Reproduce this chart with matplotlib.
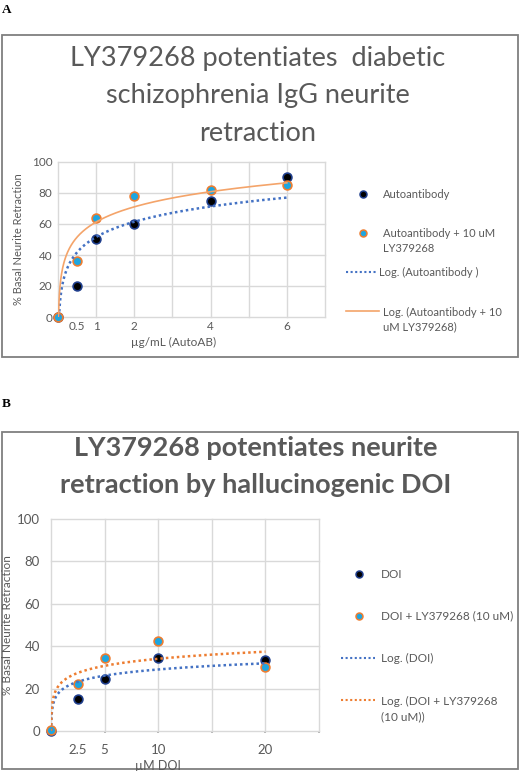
import numpy as np
import matplotlib
matplotlib.use("Agg")
import matplotlib.pyplot as plt
from matplotlib.patches import Rectangle
from matplotlib.lines import Line2D
from matplotlib.transforms import Bbox, TransformedBbox

plt.rcParams['font.family'] = ['Lato', 'DejaVu Sans']

# ---------------- data ----------------
conc_A = [0, 0.5, 1, 2, 4, 6]
autoab = [0, 20, 50, 60, 75, 90]
autoab_ly = [0, 36, 64, 78, 82, 85]
xticks_A = [0.5, 1, 2, 4, 6]
xticklabels_A = ["0.5", "1", "2", "4", "6"]
fit_A_auto = [14.2, 51.6]   # y = a*ln(x) + b
fit_A_ly = [14.1, 61.3]

conc_B = [0, 2.5, 5, 10, 20]
doi = [0, 15.3, 24.3, 34.2, 33.3]
doi_ly = [0.3, 22.4, 34.2, 42.3, 30.3]
xticks_B = [2.5, 5, 10, 20]
xticklabels_B = ["2.5", "5", "10", "20"]
fit_B_doi = [4.18, 19.4]
fit_B_ly = [4.81, 23.0]

yticks = [0, 20, 40, 60, 80, 100]

title_A = ["LY379268 potentiates  diabetic", "schizophrenia IgG neurite", "retraction"]
title_B = ["LY379268 potentiates neurite", "retraction by hallucinogenic DOI"]

# ---------------- figure ----------------
W, H = 520, 771
fig = plt.figure(figsize=(W / 100, H / 100), dpi=100)

def fx(px):
    return px / W

def fy(py):
    return 1 - py / H

def add_axes_px(l, t, r, b):
    return fig.add_axes([fx(l), fy(b), fx(r) - fx(l), (b - t) / H])

GRAY = '#595959'
GRID = '#D9D9D9'
BLUE = '#4472C4'
ORANGE = '#ED7D31'
LORANGE = '#F4A46A'
CYAN = '#1EA6E0'

# panel boxes
fig.patches.append(Rectangle((fx(1.5), fy(357)), fx(516.5), 322 / H, transform=fig.transFigure,
                             fill=False, edgecolor='#7F7F7F', linewidth=1.3))
fig.patches.append(Rectangle((fx(1.5), fy(769)), fx(516), 337 / H, transform=fig.transFigure,
                             fill=False, edgecolor='#7F7F7F', linewidth=1.3))

fig.text(fx(2), fy(13), "A", family='Liberation Serif', weight='bold', fontsize=9.5,
         ha='left', va='baseline')
fig.text(fx(2), fy(407), "B", family='Liberation Serif', weight='bold', fontsize=9.5,
         ha='left', va='baseline')

# titles
for line, base in zip(title_A, [66, 103, 141]):
    fig.text(fx(258), fy(base), line, ha='center', va='baseline', fontsize=19.5, color=GRAY)
for line, base in zip(title_B, [456, 493]):
    fig.text(fx(256), fy(base), line, ha='center', va='baseline', fontsize=19.5,
             weight='bold', color=GRAY)


def style_axes(ax, xmax, grid_step, xt, xtl, tick_fs):
    ax.set_xlim(0, xmax)
    ax.set_ylim(0, 100)
    grid_pos = list(np.arange(0, xmax + 0.01, grid_step))
    major_labels = []
    minor_pos, minor_labels = [], []
    lab = dict(zip(xt, xtl))
    for g in grid_pos:
        major_labels.append(lab.get(g, ""))
    for p, l in zip(xt, xtl):
        if not any(abs(p - g) < 1e-9 for g in grid_pos):
            minor_pos.append(p)
            minor_labels.append(l)
    ax.set_xticks(grid_pos)
    ax.set_xticklabels(major_labels)
    ax.set_xticks(minor_pos, minor=True)
    ax.set_xticklabels(minor_labels, minor=True)
    ax.set_yticks(yticks)
    ax.grid(True, which='major', color=GRID, linewidth=1)
    for gl in ax.get_xgridlines() + ax.get_ygridlines():
        gl.set_clip_on(False)
    ax.tick_params(which='both', length=0, labelsize=tick_fs, labelcolor=GRAY, pad=4)
    for s in ax.spines.values():
        s.set_visible(False)
    ax.set_axisbelow(True)


def logfit(ax, coef, xmax, **kw):
    a, b = coef
    x0 = np.exp(-b / a)
    xs = np.geomspace(x0, xmax, 300)
    ax.plot(xs, a * np.log(xs) + b, **kw)

# ---------------- panel A ----------------
axA = add_axes_px(58, 162, 325, 317)
style_axes(axA, 7, 1, xticks_A, xticklabels_A, 8.5)
axA.tick_params(axis='x', which='both', pad=3)
axA.scatter(conc_A, autoab, s=40, facecolor='black', edgecolor='#1F3E8C', linewidth=1.2, zorder=3, clip_on=False)
axA.scatter(conc_A, autoab_ly, s=40, facecolor=CYAN, edgecolor=ORANGE, linewidth=1.2, zorder=3, clip_on=False)
logfit(axA, fit_A_auto, 6, color=BLUE, lw=1.8, ls=(0, (1, 1.2)), zorder=4)
logfit(axA, fit_A_ly, 6, color=LORANGE, lw=1.2, zorder=4)

fig.text(fx(19), fy(239), "% Basal Neurite Retraction", rotation=90, ha='center', va='center',
         fontsize=8, color=GRAY)
fig.text(fx(174), fy(342), "µg/mL (AutoAB)", ha='center', va='center', fontsize=8.5, color=GRAY)

# legend A
def leg_marker(x, y, fc, ec):
    fig.add_artist(Line2D([fx(x)], [fy(y)], marker='o', markersize=5, markerfacecolor=fc,
                          markeredgecolor=ec, markeredgewidth=1.1, linestyle='none'))

def leg_line(x0, x1, y, **kw):
    fig.add_artist(Line2D([fx(x0), fx(x1)], [fy(y), fy(y)], **kw))

leg_marker(363, 194, 'black', '#1F3E8C')
fig.text(fx(383), fy(194), "Autoantibody", ha='left', va='center', fontsize=8, color=GRAY)
leg_marker(363, 233, CYAN, ORANGE)
fig.text(fx(383), fy(241), "Autoantibody + 10 uM\nLY379268", ha='left', va='center', fontsize=8,
         color=GRAY, linespacing=1.35)
leg_line(346, 377, 272, color=BLUE, lw=1.5, ls=(0, (1, 1.2)))
fig.text(fx(379), fy(272), "Log. (Autoantibody )", ha='left', va='center', fontsize=8, color=GRAY)
leg_line(346, 379, 311, color=LORANGE, lw=1.2)
fig.text(fx(383), fy(320), "Log. (Autoantibody + 10\nuM LY379268)", ha='left', va='center',
         fontsize=8, color=GRAY, linespacing=1.35)

# ---------------- panel B ----------------
axB = add_axes_px(51, 519, 319, 731)
style_axes(axB, 25, 5, xticks_B, xticklabels_B, 9.5)
axB.tick_params(axis='x', which='major', length=1.5, width=1.2, color='#A6A6A6', direction='out')
axB.tick_params(axis='x', which='major', pad=8)
axB.tick_params(axis='x', which='minor', pad=9.5)
axB.tick_params(axis='y', pad=8)
axB.scatter(conc_B, doi, s=40, facecolor='black', edgecolor='#1F3E8C', linewidth=1.2, zorder=3, clip_on=False)
axB.scatter(conc_B, doi_ly, s=40, facecolor=CYAN, edgecolor=ORANGE, linewidth=1.2, zorder=3, clip_on=False)
logfit(axB, fit_B_doi, 20, color=BLUE, lw=1.8, ls=(0, (1, 1.2)), zorder=4)
logfit(axB, fit_B_ly, 20, color=ORANGE, lw=1.8, ls=(0, (1, 1.2)), zorder=4)

fig.text(fx(8), fy(625), "% Basal Neurite Retraction", rotation=90, ha='center', va='center',
         fontsize=8.5, color=GRAY)
fig.text(fx(158), fy(765.5), "µM DOI", ha='center', va='center', fontsize=9, color=GRAY)

leg_marker(359, 574, 'black', '#1F3E8C')
fig.text(fx(381), fy(574), "DOI", ha='left', va='center', fontsize=8.5, color=GRAY)
leg_marker(359, 616, CYAN, ORANGE)
tB = fig.text(fx(381), fy(616), "DOI + LY379268 (10 uM)", ha='left', va='center', fontsize=8.5, color=GRAY)
tB.set_clip_box(TransformedBbox(Bbox.from_extents(0, 0, fx(516), 1), fig.transFigure))
tB.set_clip_on(True)
leg_line(341, 375, 658, color=BLUE, lw=1.5, ls=(0, (1, 1.2)))
fig.text(fx(381), fy(658), "Log. (DOI)", ha='left', va='center', fontsize=8.5, color=GRAY)
leg_line(341, 375, 700, color=ORANGE, lw=1.5, ls=(0, (1, 1.2)))
fig.text(fx(381), fy(709), "Log. (DOI + LY379268\n(10 uM))", ha='left', va='center', fontsize=8.5,
         color=GRAY, linespacing=1.5)

fig.savefig("out.png", dpi=100)
